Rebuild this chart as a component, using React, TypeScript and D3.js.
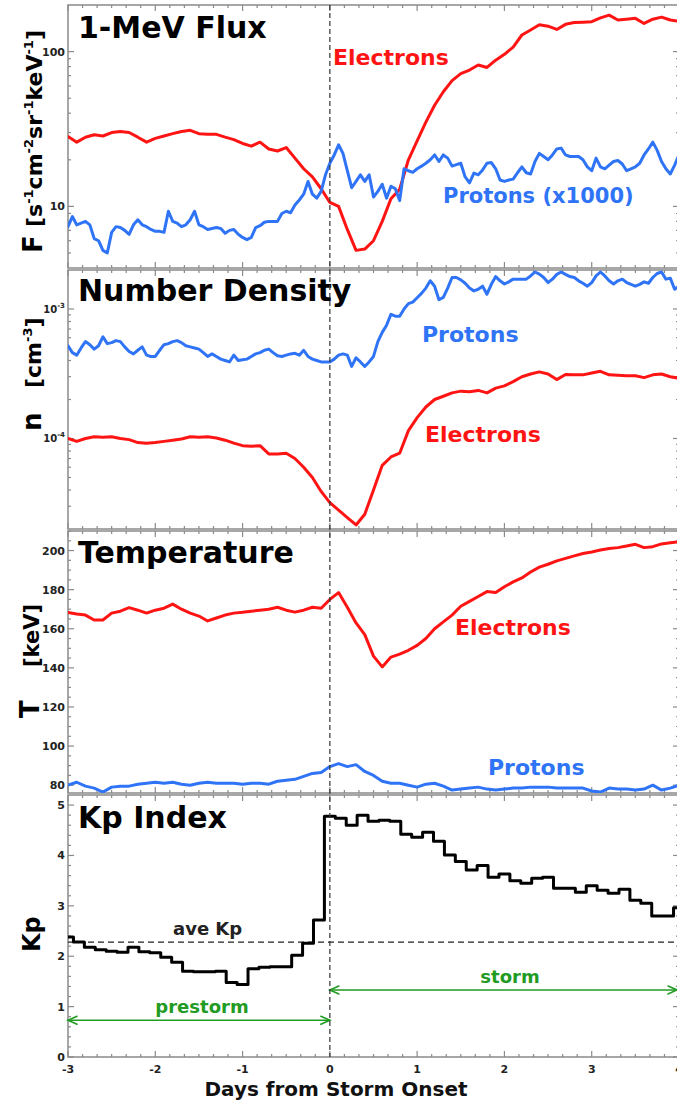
import React from 'react';
import * as d3 from 'd3';

// ---------- data ----------
// time grids (days from storm onset)
const days = d3.range(71).map((i) => -3 + i * 0.1);
const fineDays = d3.range(141).map((i) => -3 + i * 0.05);
const kpDays = d3.range(57).map((i) => -3 + i * 0.125);

// 1-MeV flux [s^-1 cm^-2 sr^-1 keV^-1]
const fluxElectrons = [
  28.3, 26, 28, 29, 28.5, 30, 30.5, 30, 28, 26, 27.5, 28.5, 29.5, 30.5, 31, 29.5, 29.2, 29.2, 28, 27,
  25.5, 24.5, 26, 23.5, 22.8, 24, 20.5, 17.5, 15.5, 13, 10.6, 10, 7.1, 5.2, 5.3, 6.0, 8.0, 11.2, 12.9, 20,
  26.5, 35, 45, 55, 65, 72, 76, 82, 79, 88, 96, 107, 128, 138, 149, 146, 139, 150, 154, 155,
  156, 165, 172, 160, 162, 164, 152, 162, 167, 160, 157,
];
// protons, multiplied by 1000 (0.05-day grid)
const fluxProtons = [
  7.4, 8.6, 7.6, 7.8, 8.0, 7.6, 6.2, 6.0, 5.2, 5.0, 6.8, 7.4, 7.3, 7.0, 6.6, 7.6, 8.2, 7.6, 7.4, 7.1,
  6.9, 6.9, 6.8, 9.3, 8.0, 7.8, 7.4, 7.6, 8.2, 9.3, 7.6, 7.4, 7.1, 7.2, 7.3, 7.2, 6.7, 7.0, 7.1, 6.6,
  6.3, 6.1, 6.3, 7.3, 7.5, 7.9, 8.0, 8.0, 8.0, 9.0, 9.3, 9.1, 10.2, 11.0, 12.0, 14.5, 12.0, 11.3, 12.5, 16.0,
  19.0, 21.5, 25.0, 22, 17, 13.2, 14.5, 16.0, 14.5, 16.0, 11.5, 12.5, 13.9, 11.3, 13.5, 13.0, 10.9, 17.5, 17.0, 16.6,
  17.5, 18.2, 19.0, 20, 21.5, 19.5, 21.5, 20.5, 18.2, 18.6, 19.0, 15.5, 14.2, 16.4, 16.0, 17.2, 19.0, 19.2, 17.5, 14.8,
  14.5, 14.8, 15.0, 16.5, 18.0, 16.5, 16.2, 19.5, 22.0, 21.0, 20.0, 21.5, 23.5, 23.8, 21.5, 21.0, 21.0, 21.0, 20.0, 18.0,
  17.0, 20.5, 18.0, 17.5, 18.5, 19.5, 19.8, 18.8, 17.0, 17.5, 18.0, 19.0, 21.5, 23.5, 26, 23.0, 19.5, 17.5, 16.2, 18.5,
  21.5,
];

// number density, in units of 1e-4 cm^-3
const densityProtons = [
  5.2, 4.6, 4.4, 5.0, 5.6, 5.3, 4.9, 5.2, 6.1, 5.4, 5.5, 5.7, 5.6, 5.1, 4.7, 4.5, 4.8, 5.1, 4.4, 4.3,
  4.3, 4.8, 5.3, 5.4, 5.6, 5.7, 5.5, 5.2, 5.1, 5.0, 4.9, 4.6, 4.3, 4.5, 4.3, 4.1, 4.0, 3.9, 4.4, 4.0,
  4.05, 4.1, 4.3, 4.5, 4.6, 4.8, 4.9, 4.6, 4.35, 4.3, 4.4, 4.5, 4.55, 4.4, 4.8, 4.3, 4.1, 4.0, 3.9, 3.9,
  3.9, 4.1, 4.4, 4.5, 4.4, 3.6, 4.2, 3.9, 3.6, 3.9, 4.3, 5.6, 6.6, 7.5, 9.1, 8.8, 8.8, 10.0, 11.0, 11.3,
  12.2, 13.2, 14.5, 16.5, 15.0, 11.8, 12.3, 14.5, 17.5, 17.5, 16.8, 15.8, 14.5, 13.8, 14.2, 15.0, 13.0, 15.5, 17.8, 16.5,
  15.6, 16.2, 17.0, 17.0, 17.0, 17.0, 18.0, 19.3, 18.6, 17.5, 16.0, 17.0, 18.5, 19.3, 18.5, 17.8, 17.5, 16.5, 15.8, 15.0,
  16.0, 18.0, 19.3, 18.0, 16.5, 15.6, 16.5, 17.0, 16.0, 15.5, 15.0, 15.5, 16.2, 15.8, 17.5, 18.8, 19.3, 17.0, 17.3, 14.2,
  15.0,
];
const densityElectrons = [
  1.0, 0.95, 1.0, 1.03, 1.02, 1.03, 1.0, 0.98, 0.93, 0.92, 0.93, 0.95, 0.97, 0.99, 1.03, 1.02, 1.03, 1.01, 0.97, 0.92,
  0.88, 0.87, 0.88, 0.76, 0.76, 0.77, 0.7, 0.6, 0.5, 0.39, 0.32, 0.28, 0.245, 0.215, 0.26, 0.4, 0.62, 0.72, 0.77, 1.15,
  1.45, 1.75, 2.0, 2.12, 2.25, 2.32, 2.3, 2.35, 2.25, 2.45, 2.55, 2.75, 3.0, 3.15, 3.27, 3.15, 2.85, 3.12, 3.1, 3.1,
  3.2, 3.3, 3.1, 3.08, 3.05, 3.05, 2.95, 3.1, 3.15, 3.0, 2.92,
];

// temperature [keV]
const tempElectrons = [
  168.3, 167.5, 167.0, 164.5, 164.5, 168.0, 169.0, 170.8, 169.5, 168.0, 169.5, 170.5, 172.6, 170.0, 168.0, 166.5, 164.0, 165.5, 167.0, 168.0,
  168.4, 169.0, 169.5, 170.0, 171.0, 169.5, 168.5, 169.5, 171.0, 170.5, 175.0, 178.5, 171.0, 163.0, 157.0, 146.0, 140.5, 145.5, 147.0, 149.0,
  151.5, 155.0, 160.0, 163.5, 167.0, 171.5, 174.0, 176.5, 179.0, 178.5, 181.5, 184.0, 186.0, 189.0, 191.5, 193.0, 194.7, 196.0, 197.3, 198.5,
  199.3, 200.3, 201.0, 201.5, 202.3, 203.2, 201.5, 202.0, 203.4, 204.0, 204.5,
];
const tempProtons = [
  80, 81.5, 79.5, 78.5, 76.5, 79, 79.5, 79.5, 80.5, 81, 81.5, 81, 81.5, 80.5, 80, 81, 81.5, 81, 81, 81,
  80.5, 81, 81, 80.5, 82, 82.5, 83, 84.5, 86, 86.5, 89.5, 91, 89.5, 90.5, 87, 85, 82, 81, 81, 80,
  79, 80.5, 81, 79.5, 77.5, 78, 78.5, 79, 78, 77.5, 78, 78.5, 78.5, 79, 79, 79, 78.5, 78.5, 78.5, 78.5,
  77, 76.5, 78.5, 78, 78, 77.5, 78, 80, 77.5, 78.5, 80,
];

// Kp index (3-hour values)
const kpIndex = [
  2.38, 2.28, 2.18, 2.13, 2.1, 2.08, 2.18, 2.09, 2.07, 1.98, 1.88, 1.7, 1.69, 1.69, 1.7, 1.48, 1.44, 1.75, 1.78, 1.79,
  1.79, 2.02, 2.26, 2.72, 4.78, 4.74, 4.6, 4.8, 4.68, 4.7, 4.68, 4.42, 4.36, 4.46, 4.28, 4.01, 3.88, 3.71, 3.8, 3.57,
  3.63, 3.5, 3.45, 3.55, 3.57, 3.35, 3.35, 3.27, 3.4, 3.31, 3.25, 3.33, 3.11, 3.05, 2.8, 2.8, 2.96,
];
const aveKp = 2.28;
const prestormArrow = { from: -3, to: 0, kp: 0.73 };
const stormArrow = { from: 0, to: 4, kp: 1.33 };

const xTickValues = [-3, -2, -1, 0, 1, 2, 3, 4];

// ---------- styling ----------
const FONT = "'DejaVu Sans', Verdana, sans-serif";
const RED = '#ff1414';
const BLUE = '#2f74f6';
const GREEN = '#229b22';
const FRAME = '#8a8a8a';
const W = 677;
const H = 1102;

const xScale = d3.scaleLinear().domain([-3, 4]).range([68, 679]);
const [X0, X1] = xScale.range();

const fluxY = d3.scaleLog().domain([4, 200]).range([268, 5]);
const densY = d3.scaleLog().domain([0.2, 20]).range([529, 270]);
const tempY = d3.scaleLinear().domain([76, 210]).range([793, 531]);
const kpY = d3.scaleLinear().domain([0, 5.2]).range([1057, 795]);

const xMinor = d3.range(43).map((i) => -3 + i / 6).filter((_, i) => i % 6 !== 0);

function logMinors(lo: number, hi: number): number[] {
  const out: number[] = [];
  for (let dec = Math.floor(Math.log10(lo)); dec <= Math.ceil(Math.log10(hi)); dec++) {
    for (let m = 2; m <= 9; m++) {
      const v = m * Math.pow(10, dec);
      if (v > lo * 1.0001 && v < hi * 0.9999) out.push(v);
    }
  }
  return out;
}

type YScale = (v: number) => number;

function Frame({ y, majors, minors, id }: { y: any; majors: number[]; minors: number[]; id: string }) {
  const [bottom, top] = y.range();
  const items: React.ReactNode[] = [];
  const tick = (key: string, x1: number, y1: number, x2: number, y2: number) =>
    items.push(<line key={key} x1={x1} y1={y1} x2={x2} y2={y2} stroke={FRAME} strokeWidth={1.2} />);
  xTickValues.forEach((d) => {
    const px = xScale(d);
    tick(`xb${d}`, px, bottom, px, bottom - 6);
    tick(`xt${d}`, px, top, px, top + 6);
  });
  xMinor.forEach((d, i) => {
    const px = xScale(d);
    tick(`xbm${i}`, px, bottom, px, bottom - 3);
    tick(`xtm${i}`, px, top, px, top + 3);
  });
  majors.forEach((v, i) => {
    const py = y(v);
    tick(`yl${i}`, X0, py, X0 + 6, py);
    tick(`yr${i}`, X1, py, X1 - 6, py);
  });
  minors.forEach((v, i) => {
    const py = y(v);
    tick(`ylm${i}`, X0, py, X0 + 3, py);
    tick(`yrm${i}`, X1, py, X1 - 3, py);
  });
  return (
    <g>
      <defs>
        <clipPath id={id}>
          <rect x={X0} y={top} width={X1 - X0} height={bottom - top} />
        </clipPath>
      </defs>
      <rect x={X0} y={top} width={X1 - X0} height={bottom - top} fill="none" stroke={FRAME} strokeWidth={1.5} />
      {items}
    </g>
  );
}

function Series({ xs, ys, y, color, clip, width = 3, curve = d3.curveLinear }: any) {
  const gen = d3
    .line<number>()
    .x((_, i) => xScale(xs[i]))
    .y((v) => y(v))
    .curve(curve);
  return (
    <path
      d={gen(ys) || ''}
      fill="none"
      stroke={color}
      strokeWidth={width}
      strokeLinejoin="round"
      strokeLinecap="round"
      clipPath={`url(#${clip})`}
    />
  );
}

function Title({ text, y }: { text: string; y: number }) {
  return (
    <text x={78} y={y} fontFamily={FONT} fontWeight="bold" fontSize={30} fill="#000">
      {text}
    </text>
  );
}

function Label({ text, x, y, color, size = 22 }: any) {
  return (
    <text x={x} y={y} fontFamily={FONT} fontWeight="bold" fontSize={size} fill={color}>
      {text}
    </text>
  );
}

function YTickLabel({ y, text }: { y: number; text: string }) {
  return (
    <text x={65} y={y} dy="0.36em" textAnchor="end" fontFamily={FONT} fontWeight="bold" fontSize={11} fill="#222">
      {text}
    </text>
  );
}

function PowTickLabel({ y, exp }: { y: number; exp: string }) {
  return (
    <text x={65} y={y + 4} textAnchor="end" fontFamily={FONT} fontWeight="bold" fill="#222">
      <tspan fontSize={10}>10</tspan>
      <tspan fontSize={7} dy={-5}>
        {exp}
      </tspan>
    </text>
  );
}

function RotLabel({ x, y, children, size }: any) {
  return (
    <text
      transform={`translate(${x},${y}) rotate(-90)`}
      fontFamily={FONT}
      fontWeight="bold"
      fontSize={size}
      fill="#000"
    >
      {children}
    </text>
  );
}

const SUP = 13;
function Sup({ t }: { t: string }) {
  return (
    <>
      <tspan fontSize={SUP} dy={-9}>
        {t}
      </tspan>
    </>
  );
}

function Arrow({ x1, x2, y }: { x1: number; x2: number; y: number }) {
  const h = 9;
  const w = 4;
  return (
    <g stroke={GREEN} strokeWidth={1.6} fill="none" strokeLinecap="round">
      <line x1={x1} y1={y} x2={x2} y2={y} />
      <path d={`M${x1 + h},${y - w}L${x1},${y}L${x1 + h},${y + w}`} />
      <path d={`M${x2 - h},${y - w}L${x2},${y}L${x2 - h},${y + w}`} />
    </g>
  );
}

export default function App() {
  const onset = xScale(0);
  const kpTop = kpY.range()[1];
  const tempMinor = d3.range(80, 211, 5).filter((v) => v % 20 !== 0);
  const kpMinor = d3.range(0, 5.2, 0.2).filter((v) => Math.abs(v - Math.round(v)) > 0.01);

  return (
    <svg
      width={W}
      height={H}
      viewBox={`0 0 ${W} ${H}`}
      style={{ position: 'absolute', left: 0, top: 0, background: '#fff' }}
    >
      <rect width={W} height={H} fill="#fff" />

      {/* panel 1: 1-MeV flux */}
      <Frame y={fluxY} majors={[10, 100]} minors={logMinors(4, 200)} id="c1" />
      <Series xs={days} ys={fluxElectrons} y={fluxY} color={RED} clip="c1" />
      <Series xs={fineDays} ys={fluxProtons} y={fluxY} color={BLUE} clip="c1" />
      <Title text="1-MeV Flux" y={38} />
      <Label text="Electrons" x={333} y={65} color={RED} />
      <Label text="Protons (x1000)" x={443} y={203} color={BLUE} size={21} />
      <YTickLabel y={fluxY(100)} text="100" />
      <YTickLabel y={fluxY(10)} text="10" />
      <RotLabel x={42} y={253} size={26}>
        F
      </RotLabel>
      <RotLabel x={42} y={227} size={22}>
        <tspan>[s</tspan>
        <Sup t="-1" />
        <tspan dy={9}>cm</tspan>
        <Sup t="-2" />
        <tspan dy={9}>sr</tspan>
        <Sup t="-1" />
        <tspan dy={9}>keV</tspan>
        <Sup t="-1" />
        <tspan dy={9}>]</tspan>
      </RotLabel>

      {/* panel 2: number density */}
      <Frame y={densY} majors={[1, 10]} minors={logMinors(0.2, 20)} id="c2" />
      <Series xs={fineDays} ys={densityProtons} y={densY} color={BLUE} clip="c2" />
      <Series xs={days} ys={densityElectrons} y={densY} color={RED} clip="c2" />
      <Title text="Number Density" y={301} />
      <Label text="Protons" x={422} y={342} color={BLUE} />
      <Label text="Electrons" x={425} y={442} color={RED} />
      <PowTickLabel y={densY(10)} exp="-3" />
      <PowTickLabel y={densY(1)} exp="-4" />
      <RotLabel x={41} y={431} size={26}>
        n
      </RotLabel>
      <RotLabel x={41} y={388} size={22}>
        <tspan>[cm</tspan>
        <Sup t="-3" />
        <tspan dy={9}>]</tspan>
      </RotLabel>

      {/* panel 3: temperature */}
      <Frame y={tempY} majors={d3.range(80, 201, 20)} minors={tempMinor} id="c3" />
      <Series xs={days} ys={tempElectrons} y={tempY} color={RED} clip="c3" />
      <Series xs={days} ys={tempProtons} y={tempY} color={BLUE} clip="c3" />
      <Title text="Temperature" y={563} />
      <Label text="Electrons" x={455} y={635} color={RED} />
      <Label text="Protons" x={488} y={775} color={BLUE} />
      {d3.range(80, 201, 20).map((v) => (
        <YTickLabel key={v} y={tempY(v)} text={String(v)} />
      ))}
      <RotLabel x={39} y={718} size={26}>
        T
      </RotLabel>
      <RotLabel x={39} y={667} size={21}>
        [keV]
      </RotLabel>

      {/* panel 4: Kp index */}
      <Frame y={kpY} majors={d3.range(0, 6)} minors={kpMinor} id="c4" />
      <line
        x1={X0}
        x2={X1}
        y1={kpY(aveKp)}
        y2={kpY(aveKp)}
        stroke="#222"
        strokeWidth={1.2}
        strokeDasharray="6,4"
      />
      <text x={173} y={935} fontFamily={FONT} fontWeight="bold" fontSize={18} fill="#222">
        ave Kp
      </text>
      <Series xs={kpDays} ys={kpIndex} y={kpY} color="#000" clip="c4" curve={d3.curveStep} />
      <Title text="Kp Index" y={828} />
      {d3.range(0, 6).map((v) => (
        <YTickLabel key={v} y={kpY(v)} text={String(v)} />
      ))}
      <RotLabel x={40} y={952} size={24}>
        Kp
      </RotLabel>
      <Arrow x1={xScale(prestormArrow.from)} x2={xScale(prestormArrow.to)} y={kpY(prestormArrow.kp)} />
      <Arrow x1={xScale(stormArrow.from)} x2={xScale(stormArrow.to) - 2} y={kpY(stormArrow.kp)} />
      <text x={202} y={1013} textAnchor="middle" fontFamily={FONT} fontWeight="bold" fontSize={18} fill={GREEN}>
        prestorm
      </text>
      <text x={510} y={983} textAnchor="middle" fontFamily={FONT} fontWeight="bold" fontSize={18} fill={GREEN}>
        storm
      </text>

      {/* storm onset marker across all panels */}
      <line
        x1={onset}
        x2={onset}
        y1={fluxY.range()[1]}
        y2={kpY.range()[0]}
        stroke="#333"
        strokeWidth={1.2}
        strokeDasharray="5,3"
      />

      {/* x axis */}
      {xTickValues.map((d) => (
        <text
          key={d}
          x={xScale(d)}
          y={1073}
          textAnchor="middle"
          fontFamily={FONT}
          fontWeight="bold"
          fontSize={11}
          fill="#222"
        >
          {String(d)}
        </text>
      ))}
      <text x={336} y={1096} textAnchor="middle" fontFamily={FONT} fontWeight="bold" fontSize={20} fill="#111">
        Days from Storm Onset
      </text>
      <g style={{ display: 'none' }}>{kpTop}</g>
    </svg>
  );
}
